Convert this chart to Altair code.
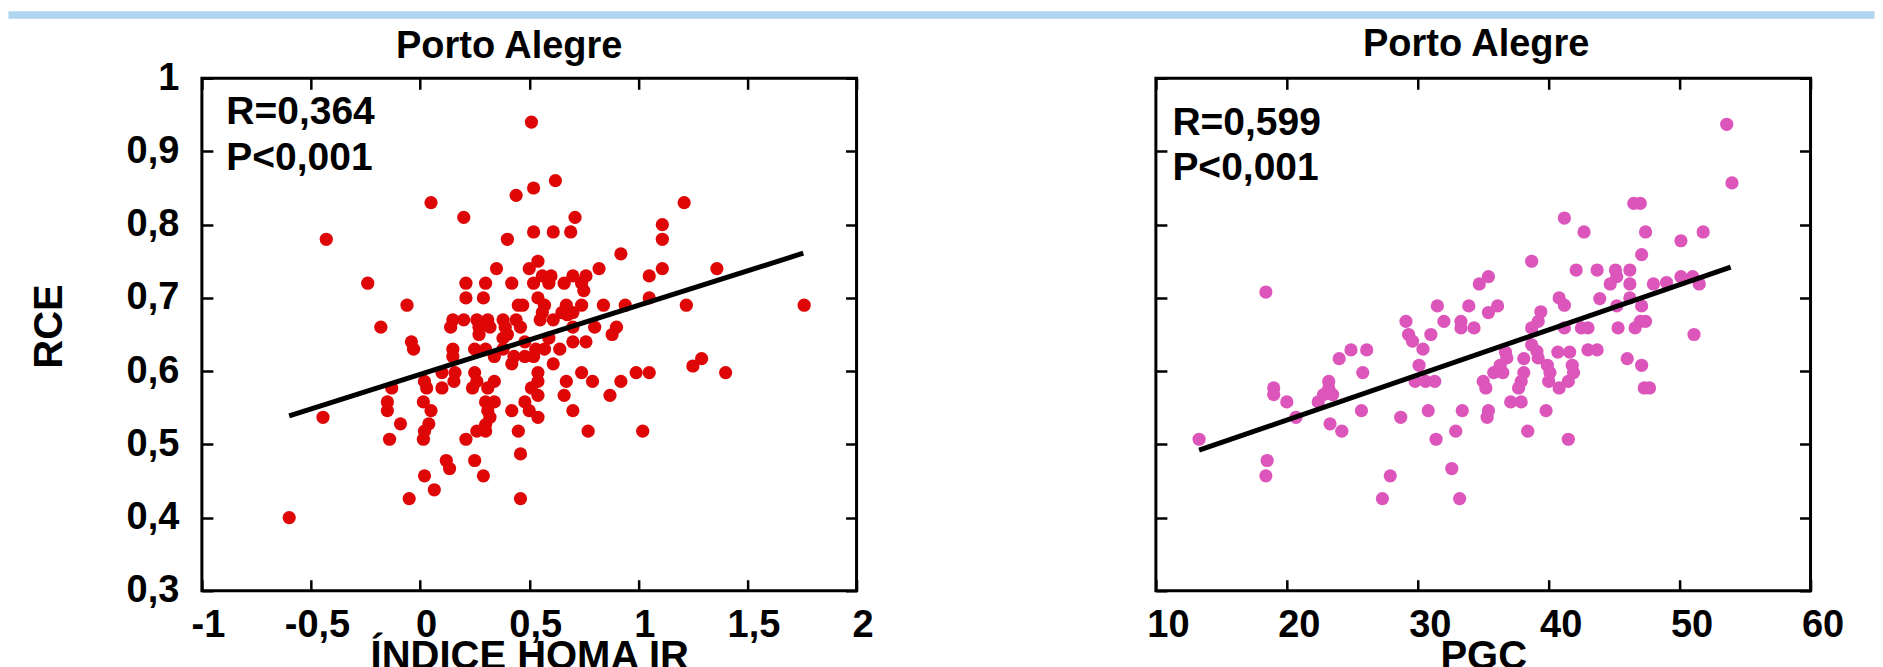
import altair as alt
import pandas as pd

# ---------------- data ----------------
homa_x = [0.51, 0.62, 0.52, 0.44, 0.05, 1.21, 0.20, 0.71, 1.11, 0.52, 0.61, 0.69, 1.11, -0.43, 0.40,
          0.92, 0.54, 0.50, 0.35, 0.82, 1.11, 1.36, 1.05, 0.56, 0.60, 0.70, 0.76, 0.21, 0.30, 0.42,
          0.52, 0.59, 0.66, 0.74, -0.24, 0.75, 0.21, 0.29, 0.54, 1.05, -0.06, 0.45, 0.47, 0.57, 0.67,
          0.74, 0.84, 0.94, 1.22, 1.76, 0.65, 0.70, 0.56, 0.15, 0.20, 0.26, 0.31, 0.38, 0.44, 0.55,
          0.61, -0.18, 0.14, 0.27, 0.32, 0.39, 0.46, 0.70, 0.80, 0.90, 0.27, 0.88, 0.40, 0.675,
          -0.04, -0.03, 0.15, 0.15, 0.25, 0.30, 0.34, 0.38, 0.42, 0.48, 0.52, 0.57, 0.61, 0.64, 0.70,
          0.76, 0.38, 0.43, 0.48, 0.53, 0.59, 1.25, 1.29, 1.40, 0.99, 1.05, 0.92, 0.79, 0.74, 0.67,
          0.66, 0.87, 0.70, 0.77, 1.02, 0.54, 0.54, 0.51, 0.54, 0.48, 0.50, 0.54, 0.42, 0.45, 0.46,
          0.46, 0.34, 0.31, 0.25, 0.26, 0.24, 0.30, 0.34, 0.31, 0.32, 0.30, 0.26, 0.30, 0.21, 0.25,
          0.29, 0.12, 0.135, 0.02, 0.065, -0.05, -0.60, 0.015, 0.02, 0.04, 0.05, 0.015, -0.09, -0.14,
          -0.15, -0.15, -0.13, -0.445, 0.03, 0.02, 0.10, 0.155, 0.16, 0.10]
homa_y = [0.94, 0.86, 0.85, 0.84, 0.83, 0.83, 0.81, 0.81, 0.80, 0.79, 0.79, 0.79, 0.78, 0.78, 0.78,
          0.76, 0.75, 0.74, 0.74, 0.74, 0.74, 0.74, 0.73, 0.73, 0.73, 0.73, 0.73, 0.72, 0.72, 0.72,
          0.72, 0.72, 0.72, 0.72, 0.72, 0.71, 0.70, 0.70, 0.70, 0.70, 0.69, 0.69, 0.69, 0.69, 0.69,
          0.69, 0.69, 0.69, 0.69, 0.69, 0.68, 0.68, 0.68, 0.67, 0.67, 0.67, 0.67, 0.67, 0.67, 0.67,
          0.67, 0.66, 0.66, 0.66, 0.66, 0.66, 0.66, 0.66, 0.66, 0.66, 0.65, 0.65, 0.65, 0.677,
          0.64, 0.63, 0.63, 0.62, 0.63, 0.63, 0.62, 0.645, 0.61, 0.62, 0.62, 0.63, 0.61, 0.63, 0.64,
          0.64, 0.63, 0.62, 0.64, 0.63, 0.645, 0.607, 0.617, 0.598, 0.598, 0.598, 0.586, 0.586, 0.598, 0.586,
          0.567, 0.567, 0.546, 0.518, 0.518, 0.598, 0.586, 0.577, 0.567, 0.558, 0.546, 0.537, 0.546, 0.518, 0.487,
          0.426, 0.586, 0.577, 0.598, 0.586, 0.577, 0.558, 0.558, 0.546, 0.537, 0.527, 0.518, 0.518, 0.507, 0.478,
          0.457, 0.478, 0.467, 0.457, 0.438, 0.426, 0.40, 0.507, 0.518, 0.528, 0.546, 0.558, 0.528, 0.507,
          0.546, 0.558, 0.577, 0.537, 0.577, 0.586, 0.577, 0.586, 0.598, 0.598]

pgc_x = [53.6, 54.0, 46.5, 47.0, 41.2, 42.7, 47.4, 50.1, 51.8, 47.1, 38.7, 42.1, 43.7, 45.1, 46.2,
         45.2, 35.4, 34.7, 44.7, 46.2, 48.0, 49.0, 50.1, 51.0, 51.5, 18.4, 40.8, 41.2, 43.9, 46.2,
         45.2, 47.1, 31.5, 33.9, 36.1, 35.4, 39.4, 29.1, 32.0, 33.3, 39.2, 47.0, 47.4, 33.3, 34.3,
         38.7, 41.2, 42.5, 43.0, 45.3, 46.6, 29.3, 31.0, 51.1,
         29.6, 30.4, 38.7, 24.0, 24.9, 26.1, 36.7, 36.8, 40.7, 41.6, 43.0, 43.7, 46.0, 39.1, 39.2,
         38.1, 47.1, 41.8, 39.9, 36.3, 30.1, 25.8, 23.2, 23.2, 23.5, 22.8, 22.4, 19.0, 19.0, 20.0,
         20.7, 23.3, 24.2, 25.7, 13.3, 18.5, 18.4, 27.9, 27.3, 33.2, 32.6, 28.7, 30.8, 31.4, 32.9,
         33.4, 35.4, 35.3, 29.8, 30.6, 31.3, 35.0, 35.2, 35.8, 36.5, 38.1, 37.9, 37.7, 37.1, 37.9,
         38.4, 39.8, 40.0, 40.1, 40.8, 41.5, 41.9, 41.5, 47.3, 47.7]
pgc_y = [0.937, 0.857, 0.829, 0.829, 0.809, 0.790, 0.790, 0.778, 0.790, 0.759, 0.750, 0.738, 0.738, 0.738, 0.738,
         0.729, 0.729, 0.719, 0.719, 0.719, 0.719, 0.721, 0.729, 0.729, 0.719, 0.708, 0.700, 0.690, 0.699, 0.700,
         0.689, 0.689, 0.689, 0.689, 0.689, 0.680, 0.681, 0.668, 0.668, 0.668, 0.668, 0.668, 0.668, 0.659, 0.659,
         0.659, 0.659, 0.659, 0.659, 0.659, 0.659, 0.650, 0.650, 0.650,
         0.641, 0.630, 0.636, 0.617, 0.629, 0.629, 0.626, 0.618, 0.626, 0.626, 0.629, 0.629, 0.617, 0.627, 0.618,
         0.617, 0.608, 0.608, 0.608, 0.608, 0.608, 0.598, 0.586, 0.577, 0.568, 0.568, 0.558, 0.577, 0.568, 0.558,
         0.537, 0.528, 0.518, 0.546, 0.507, 0.478, 0.457, 0.457, 0.426, 0.426, 0.467, 0.537, 0.546, 0.507, 0.518,
         0.546, 0.546, 0.537, 0.586, 0.586, 0.586, 0.586, 0.577, 0.598, 0.598, 0.598, 0.586, 0.577, 0.558, 0.558,
         0.518, 0.546, 0.586, 0.598, 0.577, 0.586, 0.598, 0.507, 0.577, 0.577]

fit1_x = [-0.60, 1.756]
fit1_y = [0.539, 0.761]
fit2_x = [13.3, 53.9]
fit2_y = [0.492, 0.742]

ann1_text = ["R=0,364", "P<0,001"]
ann1_x = [-0.888, -0.888]
ann1_y = [0.938, 0.875]
ann2_text = ["R=0,599", "P<0,001"]
ann2_x = [11.26, 11.26]
ann2_y = [0.923, 0.861]

y_ticks = [0.3, 0.4, 0.5, 0.6, 0.7, 0.8, 0.9, 1]
x1_ticks = [-1, -0.5, 0, 0.5, 1, 1.5, 2]
x2_ticks = [10, 20, 30, 40, 50, 60]

panel_title = "Porto Alegre"
y_title = "RCE"
x1_title = "ÍNDICE HOMA IR"
x2_title = "PGC"

# ---------------- styling ----------------
FONT = "Liberation Sans"
RED = "#DE0606"
PINK = "#DC55BA"
BAND = "#AED4EF"
W, H = 655, 513
TICK = 11
LABEL_EXPR = "replace('' + datum.value, '.', ',')"


def panel(xs, ys, color, fx, fy, at, ax_, ay_, xdom, xticks, xtitle, show_y,
          title_dx, title_off, lab_off):
    pts = pd.DataFrame({"x": xs, "y": ys})
    fit = pd.DataFrame({"x": fx, "y": fy})
    ann = pd.DataFrame({"x": ax_, "y": ay_, "t": at})
    xs_ = alt.Scale(domain=xdom, nice=False, zero=False)
    ys_ = alt.Scale(domain=[0.3, 1.0], nice=False, zero=False)
    xaxis = alt.Axis(values=xticks, labelExpr=LABEL_EXPR, title=xtitle,
                     labelPadding=16, labelOffset=lab_off, titleY=78,
                     titleBaseline="alphabetic")
    if show_y:
        yaxis = alt.Axis(values=y_ticks, labelExpr=LABEL_EXPR, title=y_title,
                         labelPadding=23, titleX=-140, titleY=248,
                         titleBaseline="alphabetic")
    else:
        yaxis = alt.Axis(values=y_ticks, labels=False, title=None)

    points = alt.Chart(pts).mark_circle(size=175, opacity=1, color=color).encode(
        x=alt.X("x:Q", scale=xs_, axis=xaxis),
        y=alt.Y("y:Q", scale=ys_, axis=yaxis),
    )
    line = alt.Chart(fit).mark_line(color="black", strokeWidth=5).encode(
        x=alt.X("x:Q", scale=xs_), y=alt.Y("y:Q", scale=ys_))
    text = alt.Chart(ann).mark_text(align="left", baseline="alphabetic", font=FONT,
                                    fontSize=39, fontWeight="bold", color="black").encode(
        x=alt.X("x:Q", scale=xs_), y=alt.Y("y:Q", scale=ys_), text="t:N")
    return alt.layer(points, line, text).properties(
        width=W, height=H,
        title=alt.TitleParams(panel_title, font=FONT, fontSize=38, fontWeight="bold",
                              color="black", frame="group", anchor="middle",
                              baseline="alphabetic", offset=title_off, dx=title_dx),
    )


left = panel(homa_x, homa_y, RED, fit1_x, fit1_y, ann1_text, ann1_x, ann1_y,
             [-1, 2], x1_ticks, x1_title, True, -20, -37, 6)
right = panel(pgc_x, pgc_y, PINK, fit2_x, fit2_y, ann2_text, ann2_x, ann2_y,
              [10, 60], x2_ticks, x2_title, False, -7, -15.6, 12)

# decorative light-blue header band across the top of the page
band = alt.Chart(pd.DataFrame({"b": [0]})).mark_rect(color=BAND).encode(
    x=alt.value(-193.5), x2=alt.value(1673.5), y=alt.value(0), y2=alt.value(7.5)
).properties(width=W, height=7.5, view=alt.ViewBackground(strokeWidth=0))
filler = alt.Chart(pd.DataFrame({"b": [0]})).mark_point(opacity=0).encode(
    x=alt.value(0), y=alt.value(0)
).properties(width=W, height=7.5, view=alt.ViewBackground(strokeWidth=0))

chart = alt.concat(
    band, filler, left, right, columns=2,
    spacing=alt.RowColnumber(row=59, column=299.5), bounds="flush"
).properties(
    padding=0, background="white"
).configure_view(
    stroke="black", strokeWidth=3
).configure_axis(
    labelFont=FONT, labelFontSize=38, labelFontWeight="bold", labelColor="black",
    titleFont=FONT, titleFontSize=40, titleFontWeight="bold", titleColor="black",
    ticks=False, tickSize=0, domain=False, grid=True, gridColor="black",
    gridWidth=2.5, gridOpacity=1, labelFlush=False, labelOverlap=False,
).configure_axisX(
    gridDash=[TICK, H - 2 * TICK, TICK, 3000]
).configure_axisY(
    gridDash=[TICK, W - 2 * TICK, TICK, 3000]
)

chart.save("out.html", embed_options={"renderer": "svg", "actions": False})
